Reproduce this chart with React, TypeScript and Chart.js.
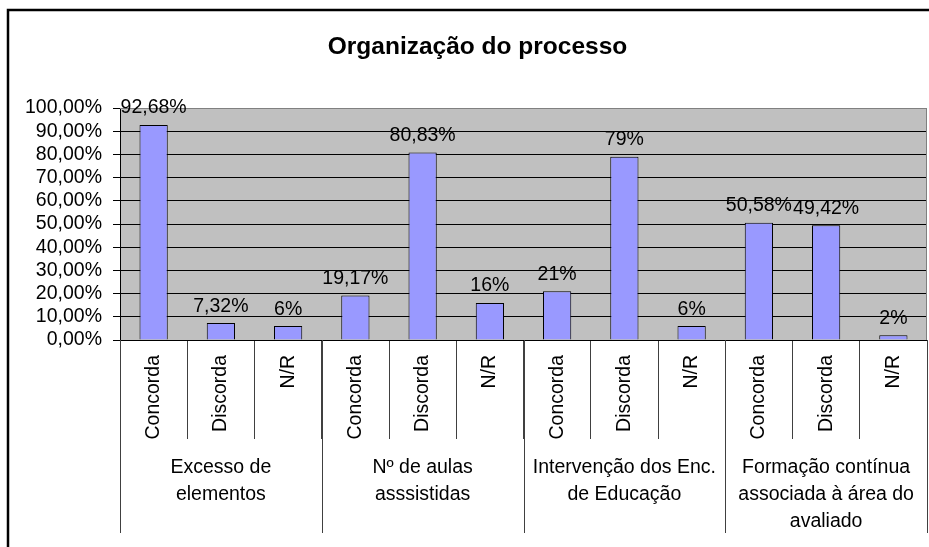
import React, { useEffect, useRef } from "react";
import { Chart, registerables } from "chart.js";

Chart.register(...registerables);

const title = "Organização do processo";
const categories = [
  "Concorda", "Discorda", "N/R",
  "Concorda", "Discorda", "N/R",
  "Concorda", "Discorda", "N/R",
  "Concorda", "Discorda", "N/R",
];
const groups: string[][] = [
  ["Excesso de", "elementos"],
  ["Nº de aulas", "asssistidas"],
  ["Intervenção dos Enc.", "de Educação"],
  ["Formação contínua", "associada à área do", "avaliado"],
];
const groupSize = 3;
const values = [92.68, 7.32, 6, 19.17, 80.83, 16, 21, 79, 6, 50.58, 49.42, 2];
const valueLabels = [
  "92,68%", "7,32%", "6%",
  "19,17%", "80,83%", "16%",
  "21%", "79%", "6%",
  "50,58%", "49,42%", "2%",
];
const yMin = 0;
const yMax = 100;
const yStep = 10;

const FONT = '"Liberation Sans", Arial, sans-serif';
const TXT = 19.5;

const fmtTick = (v: number) => v.toFixed(2).replace(".", ",") + "%";

const customPlugin = {
  id: "excelLook",
  beforeDraw(chart: any) {
    const { ctx, chartArea } = chart;
    ctx.save();
    ctx.fillStyle = "#ffffff";
    ctx.fillRect(0, 0, chart.width, chart.height);
    ctx.fillStyle = "#C0C0C0";
    ctx.fillRect(chartArea.left, chartArea.top, chartArea.right - chartArea.left, chartArea.bottom - chartArea.top);
    // outer border
    ctx.strokeStyle = "#000000";
    ctx.lineWidth = 2.5;
    ctx.strokeRect(8, 10, chart.width + 40, chart.height + 40);
    ctx.restore();
  },
  afterDraw(chart: any) {
    const { ctx, chartArea } = chart;
    const x = chart.scales.x;
    const meta = chart.getDatasetMeta(0);
    ctx.save();
    // plot border top/right
    ctx.strokeStyle = "#808080";
    ctx.lineWidth = 1;
    ctx.beginPath();
    ctx.moveTo(chartArea.left, chartArea.top + 0.5);
    ctx.lineTo(chartArea.right - 0.5, chartArea.top + 0.5);
    ctx.lineTo(chartArea.right - 0.5, chartArea.bottom);
    ctx.stroke();

    // title
    ctx.fillStyle = "#000";
    ctx.font = `bold 24.5px ${FONT}`;
    ctx.textAlign = "center";
    ctx.textBaseline = "middle";
    ctx.fillText(title, 477.5, 47);

    // data labels
    ctx.font = `${TXT}px ${FONT}`;
    ctx.textBaseline = "alphabetic";
    meta.data.forEach((bar: any, i: number) => {
      ctx.fillText(valueLabels[i], bar.x, bar.y - 11.5);
    });

    // category labels (rotated)
    const half = (x.getPixelForValue(1) - x.getPixelForValue(0)) / 2;
    categories.forEach((c, i) => {
      const px = x.getPixelForValue(i);
      ctx.save();
      ctx.translate(px, x.top + 15);
      ctx.rotate(-Math.PI / 2);
      ctx.textAlign = "right";
      ctx.textBaseline = "middle";
      ctx.fillText(c, 0, 0);
      ctx.restore();
    });

    // group separators
    ctx.strokeStyle = "#404040";
    ctx.lineWidth = 1;
    for (let g = 0; g <= groups.length; g++) {
      const px = Math.round(x.getPixelForValue(g * groupSize) - half) + 0.5;
      ctx.beginPath();
      ctx.moveTo(px, x.top);
      ctx.lineTo(px, x.top + 193);
      ctx.stroke();
    }

    // group labels
    ctx.textAlign = "center";
    ctx.textBaseline = "middle";
    groups.forEach((lines, g) => {
      const cx = (x.getPixelForValue(g * groupSize) + x.getPixelForValue(g * groupSize + groupSize - 1)) / 2;
      lines.forEach((ln, k) => {
        ctx.fillText(ln, cx, x.top + 128 + k * 27);
      });
    });
    ctx.restore();
  },
};

export default function App() {
  const ref = useRef<HTMLCanvasElement | null>(null);
  useEffect(() => {
    if (!ref.current) return;
    const chart = new Chart(ref.current, {
      type: "bar",
      data: {
        labels: categories,
        datasets: [
          {
            data: values,
            backgroundColor: "#9999FF",
            borderColor: "#000000",
            borderWidth: 1,
            barPercentage: 0.42,
            categoryPercentage: 1,
          },
        ],
      },
      options: {
        responsive: false,
        animation: false,
        devicePixelRatio: 1,
        layout: { padding: { left: 0, right: 2, top: 108, bottom: 0 } },
        plugins: {
          legend: { display: false },
          title: { display: false },
          tooltip: { enabled: false },
        },
        scales: {
          x: {
            type: "category",
            offset: true,
            grid: {
              offset: true,
              drawOnChartArea: false,
              drawTicks: true,
              tickLength: 99,
              color: "#404040",
              lineWidth: 1,
            },
            border: { display: true, color: "#000000", width: 1 },
            ticks: { display: false },
            afterFit: (scale: any) => {
              scale.height = 207;
            },
          },
          y: {
            min: yMin,
            max: yMax,
            ticks: {
              stepSize: yStep,
              autoSkip: false,
              color: "#000000",
              font: { family: FONT, size: TXT },
              padding: 11,
              callback: (v: any) => fmtTick(Number(v)),
            },
            grid: {
              color: (c: any) => (c.tick && c.tick.value === yMax ? "#808080" : "#000000"),
              tickColor: "#000000",
              lineWidth: 1,
              drawTicks: true,
              tickLength: 7,
            },
            border: { display: true, color: "#000000", width: 1 },
            afterFit: (scale: any) => {
              scale.width = 120;
            },
          },
        },
      },
      plugins: [customPlugin],
    });
    return () => chart.destroy();
  }, []);
  return (
    <div style={{ position: "fixed", left: 0, top: 0, width: 929, height: 547, overflow: "hidden", background: "#fff" }}>
      <canvas ref={ref} width={929} height={547} style={{ display: "block" }} />
    </div>
  );
}
